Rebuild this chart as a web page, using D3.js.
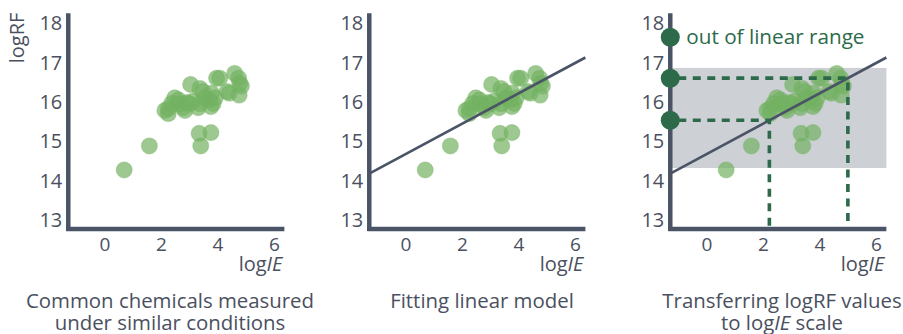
<!DOCTYPE html>
<html>
<head>
<meta charset="utf-8">
<script src="https://cdn.jsdelivr.net/npm/d3@7"></script>
<style>
  html, body { margin: 0; padding: 0; background: #fff; }
  svg { display: block; font-family: "Open Sans", "Noto Sans", sans-serif; }
</style>
</head>
<body>
<svg id="chart" width="903" height="334"></svg>
<script>
// Measured chemicals: [logIE, logRF]
const chemicals = [
  [0.68, 14.27], [1.57, 14.88], [3.33, 15.20], [3.75, 15.22], [3.39, 14.88],
  [2.12, 15.78], [2.24, 15.70], [2.24, 15.83], [2.36, 15.96], [2.47, 16.10],
  [2.60, 16.05], [2.65, 15.95], [2.77, 15.85], [2.83, 15.78], [2.90, 15.98],
  [3.00, 15.95], [3.03, 16.44], [3.12, 16.02], [3.30, 15.85], [3.36, 15.95],
  [3.36, 16.34], [3.47, 16.26], [3.55, 16.10], [3.70, 16.05], [3.77, 16.22],
  [3.75, 15.88], [3.83, 15.96], [3.90, 16.10], [3.95, 16.60], [4.06, 16.60],
  [4.32, 16.26], [4.40, 16.22], [4.59, 16.72], [4.73, 16.60], [4.77, 16.47],
  [4.75, 16.17], [4.83, 16.40]
];

// Linear model logRF = intercept + slope * logIE
const intercept = 14.68;
const slope = 0.385;

// Linear range of the model (logRF)
const linearRange = [14.32, 16.86];

// logRF values transferred to the logIE scale; the first is outside the range
const outOfRangeRF = [17.64];
const transferRF = [15.53, 16.6];

const xTicks = [0, 2, 4, 6];
const yTicks = [13, 14, 15, 16, 17, 18];
const xDomain = [-1.3, 6.35];
const yDomain = [12.77, 18.25];

const captions = [
  [["Common chemicals measured"], ["under similar conditions"]],
  [["Fitting linear model"]],
  [["Transferring logRF values"], ["to log", "IE", " scale"]]
];

const axisColor = "#4a5466";
const textColor = "#4a5060";
const pointColor = "#74b262";
const darkGreen = "#2c6a4a";
const bandColor = "#cdd0d5";

const svg = d3.select("#chart");
const panelX = [68, 369, 670];
const captionX = [170, 482, 782];

const y = d3.scaleLinear().domain([13, 18]).range([220, 23]);

panelX.forEach((ox, i) => {
  const x = d3.scaleLinear().domain([0, 6]).range([ox + 37, ox + 206.5]);
  const g = svg.append("g");

  // Linear range band
  if (i === 2) {
    g.append("rect")
      .attr("x", x(xDomain[0]))
      .attr("y", y(linearRange[1]))
      .attr("width", x(xDomain[1]) - x(xDomain[0]))
      .attr("height", y(linearRange[0]) - y(linearRange[1]))
      .attr("fill", bandColor);
  }

  // Data points
  g.append("g").selectAll("circle").data(chemicals).join("circle")
    .attr("cx", d => x(d[0]))
    .attr("cy", d => y(d[1]))
    .attr("r", 8)
    .attr("fill", pointColor)
    .attr("fill-opacity", 0.7)
    .attr("stroke", pointColor)
    .attr("stroke-opacity", 0.35)
    .attr("stroke-width", 1.2);

  // Fitted line
  if (i >= 1) {
    g.append("line")
      .attr("x1", x(xDomain[0])).attr("y1", y(intercept + slope * xDomain[0]))
      .attr("x2", x(xDomain[1])).attr("y2", y(intercept + slope * xDomain[1]))
      .attr("stroke", axisColor)
      .attr("stroke-width", 2.6);
  }

  // Transfer guides
  if (i === 2) {
    const guides = g.append("g");
    transferRF.forEach(rf => {
      const ie = (rf - intercept) / slope;
      guides.append("path")
        .attr("d", d3.line()([
          [x(xDomain[0]) + 8, y(rf)],
          [x(ie), y(rf)],
          [x(ie), y(yDomain[0]) - 2]
        ]))
        .attr("fill", "none")
        .attr("stroke", darkGreen)
        .attr("stroke-width", 3.6)
        .attr("stroke-dasharray", "8,6.5");
    });
  }

  // Axes
  const axes = g.append("g");
  axes.append("line")
    .attr("x1", x(xDomain[0])).attr("x2", x(xDomain[0]))
    .attr("y1", y(yDomain[1])).attr("y2", y(yDomain[0]) + 2)
    .attr("stroke", axisColor).attr("stroke-width", 4.5);
  axes.append("line")
    .attr("x1", x(xDomain[0]) - 2).attr("x2", x(xDomain[1]))
    .attr("y1", y(yDomain[0])).attr("y2", y(yDomain[0]))
    .attr("stroke", axisColor).attr("stroke-width", 4.5);

  // Tick labels
  g.append("g").selectAll("text").data(yTicks).join("text")
    .attr("x", x(xDomain[0]) - 6)
    .attr("y", d => y(d))
    .attr("dy", "0.36em")
    .attr("text-anchor", "end")
    .attr("font-size", 20)
    .attr("fill", textColor)
    .text(d => d);
  g.append("g").selectAll("text").data(xTicks).join("text")
    .attr("x", d => x(d))
    .attr("y", 251)
    .attr("text-anchor", "middle")
    .attr("font-size", 19)
    .attr("fill", textColor)
    .text(d => d);

  // Axis titles
  const xt = g.append("text")
    .attr("x", x(xDomain[1]) - 2)
    .attr("y", 271)
    .attr("text-anchor", "end")
    .attr("font-size", 20)
    .attr("fill", textColor);
  xt.append("tspan").text("log");
  xt.append("tspan").attr("font-style", "italic").text("IE");

  if (i === 0) {
    g.append("text")
      .attr("transform", `translate(24,38) rotate(-90)`)
      .attr("text-anchor", "middle")
      .attr("font-size", 20)
      .attr("fill", textColor)
      .text("logRF");
  }

  // Out-of-range and transferred values on the logRF axis
  if (i === 2) {
    g.append("g").selectAll("circle").data(outOfRangeRF.concat(transferRF)).join("circle")
      .attr("cx", x(xDomain[0]))
      .attr("cy", d => y(d))
      .attr("r", 9.5)
      .attr("fill", darkGreen);
    g.append("text")
      .attr("x", x(xDomain[0]) + 16)
      .attr("y", y(outOfRangeRF[0]))
      .attr("dy", "0.35em")
      .attr("font-size", 20.7)
      .attr("fill", darkGreen)
      .text("out of linear range");
  }

  // Caption
  captions[i].forEach((line, k) => {
    const t = svg.append("text")
      .attr("x", captionX[i])
      .attr("y", 308 + k * 22)
      .attr("text-anchor", "middle")
      .attr("font-size", 20.4)
      .attr("fill", textColor);
    line.forEach((part, j) => {
      t.append("tspan")
        .attr("font-style", part === "IE" ? "italic" : null)
        .text(part);
    });
  });
});
</script>
</body>
</html>
